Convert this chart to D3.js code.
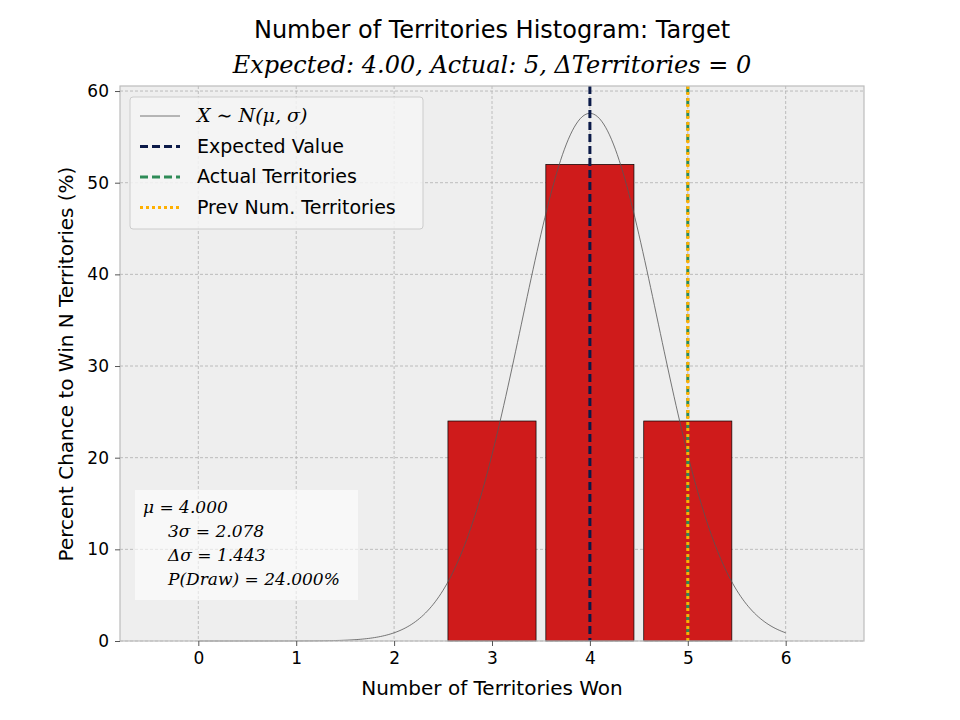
<!DOCTYPE html>
<html lang="en">
<head>
<meta charset="UTF-8" />
<title>Territories Histogram</title>
<script src="https://d3js.org/d3.v7.min.js"></script>
<style>
  body { margin: 0; background: #fff; }
  text { font-family: "DejaVu Sans", sans-serif; }
  .math { font-family: "DejaVu Serif", serif; font-style: italic; }
</style>
</head>
<body>
<svg id="chart" width="960" height="720"></svg>
<script>
const territories = [3, 4, 5];
const percents = [24, 52, 24];
const mu = 4.0;
const sigma = 0.693;
const expectedValue = 4;
const actualTerritories = 5;
const prevTerritories = 5;
const xTicks = [0, 1, 2, 3, 4, 5, 6];
const yTicks = [0, 10, 20, 30, 40, 50, 60];

const svg = d3.select("#chart");
const m = { left: 120, right: 864, top: 86, bottom: 641 };
const x = d3.scaleLinear().domain([-0.8, 6.8]).range([m.left, m.right]);
const y = d3.scaleLinear().domain([0, 60.55]).range([m.bottom, m.top]);

svg.append("rect").attr("x", m.left).attr("y", m.top)
  .attr("width", m.right - m.left).attr("height", m.bottom - m.top)
  .attr("fill", "#eeeeee");

// grid
svg.append("g").selectAll("line").data(xTicks).join("line")
  .attr("x1", d => x(d)).attr("x2", d => x(d)).attr("y1", m.top).attr("y2", m.bottom)
  .attr("stroke", "#b0b0b0").attr("stroke-dasharray", "3,2").attr("stroke-width", 0.8);
svg.append("g").selectAll("line").data(yTicks).join("line")
  .attr("x1", m.left).attr("x2", m.right).attr("y1", d => y(d)).attr("y2", d => y(d))
  .attr("stroke", "#b0b0b0").attr("stroke-dasharray", "3,2").attr("stroke-width", 0.8);

// bars
svg.append("g").selectAll("rect").data(territories).join("rect")
  .attr("x", d => x(d - 0.45)).attr("width", x(0.9) - x(0))
  .attr("y", (d, i) => y(percents[i])).attr("height", (d, i) => y(0) - y(percents[i]))
  .attr("fill", "#cf1b1b").attr("stroke", "#000").attr("stroke-width", 0.7);

// normal curve
const curveXs = d3.range(0, 6.001, 0.02);
const pdf = v => 100 / (sigma * Math.sqrt(2 * Math.PI)) * Math.exp(-0.5 * ((v - mu) / sigma) ** 2);
svg.append("path").datum(curveXs)
  .attr("d", d3.line().x(d => x(d)).y(d => y(pdf(d))))
  .attr("fill", "none").attr("stroke", "#555").attr("stroke-width", 0.8);

// vertical lines
function vline(v, color, dash, w) {
  svg.append("line").attr("x1", x(v)).attr("x2", x(v)).attr("y1", m.top).attr("y2", m.bottom)
    .attr("stroke", color).attr("stroke-dasharray", dash).attr("stroke-width", w);
}
vline(expectedValue, "#0b1a48", "8,4", 3);
vline(actualTerritories, "#2e8b57", "8,4", 3);
vline(prevTerritories, "#ffb000", "3,3", 3);

// frame
svg.append("rect").attr("x", m.left).attr("y", m.top)
  .attr("width", m.right - m.left).attr("height", m.bottom - m.top)
  .attr("fill", "none").attr("stroke", "#bcbcbc").attr("stroke-width", 1.2);

// axes
const xAxis = svg.append("g").attr("transform", `translate(0,${m.bottom})`)
  .call(d3.axisBottom(x).tickValues(xTicks).tickSize(5).tickPadding(6));
const yAxis = svg.append("g").attr("transform", `translate(${m.left},0)`)
  .call(d3.axisLeft(y).tickValues(yTicks).tickSize(5).tickPadding(6));
[xAxis, yAxis].forEach(a => {
  a.select(".domain").remove();
  a.selectAll("line").attr("stroke", "#555");
  a.selectAll("text").attr("font-size", 17).attr("fill", "#000")
    .attr("font-family", "DejaVu Sans, sans-serif");
});

svg.append("text").attr("x", 492).attr("y", 695).attr("text-anchor", "middle")
  .attr("font-size", 20).text("Number of Territories Won");
svg.append("text").attr("transform", "translate(73,364) rotate(-90)")
  .attr("text-anchor", "middle").attr("font-size", 20).text("Percent Chance to Win N Territories (%)");

// titles
svg.append("text").attr("x", 492).attr("y", 38).attr("text-anchor", "middle")
  .attr("font-size", 24).text("Number of Territories Histogram: Target");
svg.append("text").attr("x", 492).attr("y", 73).attr("text-anchor", "middle")
  .attr("font-size", 24).attr("class", "math")
  .text("Expected: 4.00, Actual: 5, ΔTerritories = 0");

// legend
const lg = svg.append("g");
lg.append("rect").attr("x", 130).attr("y", 97).attr("width", 293).attr("height", 132).attr("rx", 3)
  .attr("fill", "#f4f4f4").attr("fill-opacity", 0.85).attr("stroke", "#ccc");
const legendItems = [
  { label: "X ∼ N(μ, σ)", color: "#555", dash: null, w: 0.8, math: true },
  { label: "Expected Value", color: "#0b1a48", dash: "8,4", w: 3 },
  { label: "Actual Territories", color: "#2e8b57", dash: "8,4", w: 3 },
  { label: "Prev Num. Territories", color: "#ffb000", dash: "3,3", w: 3 }
];
legendItems.forEach((it, i) => {
  const yy = 116 + i * 30.5;
  lg.append("line").attr("x1", 140).attr("x2", 180).attr("y1", yy).attr("y2", yy)
    .attr("stroke", it.color).attr("stroke-width", it.w).attr("stroke-dasharray", it.dash);
  lg.append("text").attr("x", 197).attr("y", yy + 6).attr("font-size", 19)
    .attr("class", it.math ? "math" : null).text(it.label);
});

// stats box
const sb = svg.append("g");
sb.append("rect").attr("x", 135).attr("y", 490).attr("width", 223).attr("height", 110)
  .attr("fill", "#fff").attr("fill-opacity", 0.6);
const stats = [
  ["μ = 4.000", 143], ["3σ = 2.078", 168], ["Δσ = 1.443", 168], ["P(Draw) = 24.000%", 168]
];
stats.forEach((s, i) => {
  sb.append("text").attr("x", s[1]).attr("y", 513 + i * 24).attr("font-size", 17)
    .attr("class", "math").text(s[0]);
});
</script>
</body>
</html>
